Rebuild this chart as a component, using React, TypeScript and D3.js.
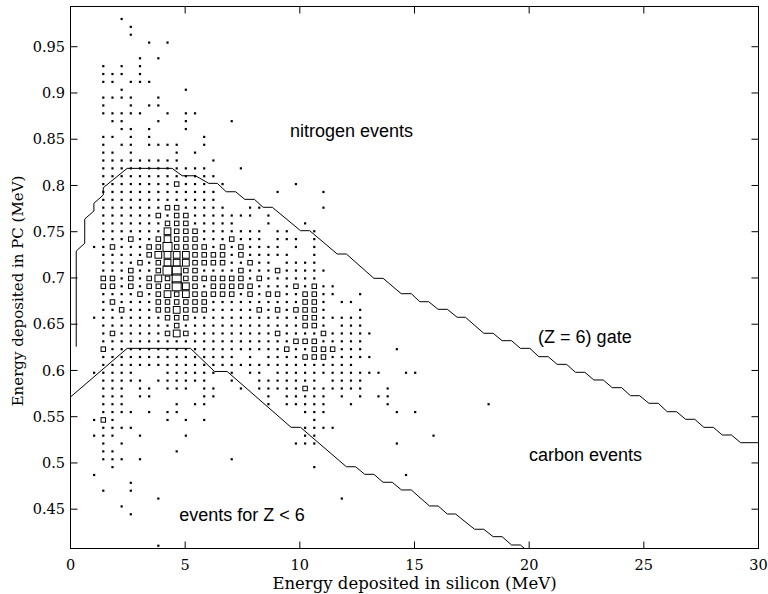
import React from "react";
import * as d3 from "d3";

// ---- data ----
const xTicks = [0, 5, 10, 15, 20, 25, 30];
const yTicks = [0.45, 0.5, 0.55, 0.6, 0.65, 0.7, 0.75, 0.8, 0.85, 0.9, 0.95];
const yTickLabels = ["0.45", "0.5", "0.55", "0.6", "0.65", "0.7", "0.75", "0.8", "0.85", "0.9", "0.95"];

// histogram bins: first bin centre and bin widths (MeV)
const binX0 = 1.03;
const binDX = 0.4;
const binY0 = 0.98;
const binDY = 0.0085;

// counts per bin (0 = empty, 1 = single event, 2..4 = larger counts); one string per row, top row first
const counts: string[] = [
  "0001",
  "00001",
  "00001",
  "0000001010",
  "",
  "0000010100",
  "0101010000",
  "0111010000",
  "0110111000",
  "00010000001",
  "0111100100",
  "0100101100",
  "011111001011",
  "0011000100100001",
  "00011010001",
  "0110101000001",
  "0101101111001",
  "011010000101",
  "01111111110001",
  "01111111111110001",
  "01111111111111",
  "01111111121110100000001",
  "01111111111111000000100001",
  "01111111111111",
  "01111111221111100110000001",
  "01111112122111111101",
  "011111112221111100010001",
  "0111111132221111111011001",
  "0111211232221112111011101",
  "1121112242222121211110101",
  "0111112333322221211111001",
  "0111121233322221121101111",
  "01112112442211112111211111",
  "0221212324222222212111111",
  "022121222432122222111121211",
  "011112123232222212122112211001",
  "012111122222211111111112210110",
  "011211122322211111212122210001",
  "111111112221111111111112211111",
  "011111111211111111111112210111",
  "0121111123211111111121111211111",
  "011111111111111111111122211111",
  "021111111111111111111211222111000100",
  "0111111111111111010111122211111",
  "01111111111111111111111111111",
  "111110001111110101101111111111110011",
  "0111110111111001001111111011110",
  "0111011011101100101111121111110010",
  "011101100000110000010111110101011",
  "01110000010110000001011111001000100000000001",
  "0111101011000000000000011100000001010",
  "1210000010101000000000001",
  "01111000000000000000000111100",
  "11100100001000000000000110000000000001",
  "010100000000000000000011100000000100",
  "0110000001",
  "0111010000000001",
  "00100000000000000000000010",
  "10000000000000000000000000000000001",
  "00001",
  "01001",
  "0000000100000000000000000001",
  "0001",
  "00001",
  "",
  "",
  "",
  "00000001",
];

// (Z = 6) gate, upper boundary
const upperGateX = [0.25, 0.25, 0.62, 0.62, 1.02, 1.02, 1.43, 1.43, 2.47, 4.43, 4.87, 5.45, 6.03, 6.4, 6.79, 7.2, 7.6, 8.02, 8.4, 8.8, 10.03, 10.43, 11.63, 12.03, 13.23, 13.63, 14.42, 14.86, 15.23, 15.62, 16.03, 16.43, 16.86, 17.22, 18.02, 18.43, 18.82, 19.23, 19.62, 20.03, 20.42, 20.83, 21.22, 21.63, 22.02, 22.43, 22.82, 23.23, 23.62, 24.03, 24.42, 24.82, 25.22, 25.63, 26.02, 26.43, 26.82, 27.22, 27.62, 28.03, 28.42, 28.82, 29.22, 30];
const upperGateY = [0.6257, 0.7291, 0.7375, 0.7637, 0.7724, 0.7807, 0.7897, 0.7976, 0.8185, 0.8185, 0.8105, 0.8105, 0.8023, 0.8023, 0.7932, 0.7932, 0.785, 0.785, 0.7764, 0.7764, 0.7511, 0.7511, 0.7259, 0.7259, 0.6996, 0.6996, 0.683, 0.683, 0.6743, 0.6743, 0.6661, 0.6661, 0.6575, 0.6575, 0.6402, 0.6402, 0.6322, 0.6322, 0.6239, 0.6239, 0.6149, 0.6149, 0.6066, 0.6066, 0.598, 0.598, 0.5897, 0.5897, 0.5814, 0.5814, 0.5727, 0.5727, 0.5645, 0.5645, 0.5554, 0.5554, 0.5472, 0.5472, 0.5385, 0.5385, 0.5302, 0.5302, 0.5219, 0.5219];

// (Z = 6) gate, lower boundary
const lowerGateX = [0, 2.47, 5.23, 6.28, 6.83, 9.62, 10.03, 12.03, 12.43, 12.83, 13.23, 13.63, 14.03, 14.43, 14.86, 15.65, 16.03, 16.43, 16.79, 17.62, 18.02, 18.43, 18.82, 19.23, 19.62, 20.03];
const lowerGateY = [0.5713, 0.6239, 0.6239, 0.5989, 0.5989, 0.5385, 0.5385, 0.4959, 0.4959, 0.4877, 0.4877, 0.4791, 0.4791, 0.4708, 0.4708, 0.4535, 0.4535, 0.4448, 0.4448, 0.4283, 0.4283, 0.4203, 0.4203, 0.4113, 0.4113, 0.4026];

const annotationText = ["nitrogen events", "(Z = 6) gate", "carbon events", "events for Z < 6"];
const annotationX = [9.57, 20.39, 19.99, 4.74];
const annotationY = [0.8524, 0.6297, 0.5016, 0.4372];

const xLabel = "Energy deposited in silicon (MeV)";
const yLabel = "Energy deposited in PC (MeV)";

export default function App() {
  const W = 768;
  const H = 594;
  const left = 70.5, right = 758.5, top = 6.5, bottom = 548.5;
  const x = d3.scaleLinear().domain([0, 30]).range([left, right]);
  const y = d3.scaleLinear().domain([0.4075, 0.9935]).range([bottom, top]);
  const side = d3.scaleLinear().domain([2, 4]).range([4.5, 9]);

  const cells: { cx: number; cy: number; v: number }[] = [];
  counts.forEach((row, r) => {
    row.padEnd(44, "0").split("").forEach((ch, c) => {
      const v = +ch;
      if (v > 0) cells.push({ cx: binX0 + c * binDX, cy: binY0 - r * binDY, v });
    });
  });

  const gateLine = (xs: number[], ys: number[]) =>
    d3.line<number>().x((_, i) => x(xs[i])).y((_, i) => y(ys[i]))(xs) || "";

  const serif = "'DejaVu Serif', 'Liberation Serif', serif";
  const sans = "'Liberation Sans', Arial, sans-serif";
  const tickLen = 7;

  return (
    <svg width={W} height={H} style={{ position: "absolute", left: 0, top: 0, background: "#fff" }}>
      <defs>
        <clipPath id="plotClip">
          <rect x={left} y={top} width={right - left} height={bottom - top} />
        </clipPath>
      </defs>
      <rect x={0} y={0} width={W} height={H} fill="#fff" />
      <g clipPath="url(#plotClip)">
        {cells.map((d, i) =>
          d.v === 1 ? (
            <rect key={i} x={x(d.cx) - 1.1} y={y(d.cy) - 1.1} width={2.2} height={2.2} fill="#000" />
          ) : (
            <rect
              key={i}
              x={x(d.cx) - side(d.v) / 2}
              y={y(d.cy) - side(d.v) / 2}
              width={side(d.v)}
              height={side(d.v)}
              fill="none"
              stroke="#000"
              strokeWidth={1}
            />
          )
        )}
        <path d={gateLine(upperGateX, upperGateY)} fill="none" stroke="#000" strokeWidth={1} />
        <path d={gateLine(lowerGateX, lowerGateY)} fill="none" stroke="#000" strokeWidth={1} />
      </g>
      {/* frame */}
      <rect x={left} y={top} width={right - left} height={bottom - top} fill="none" stroke="#000" strokeWidth={1} />
      {/* ticks */}
      {xTicks.map((t) => (
        <g key={"xt" + t}>
          <line x1={x(t)} x2={x(t)} y1={bottom} y2={bottom - tickLen} stroke="#000" />
          <line x1={x(t)} x2={x(t)} y1={top} y2={top + tickLen} stroke="#000" />
          <text x={x(t)} y={570} textAnchor="middle" fontFamily={serif} fontSize={14.5} fill="#000">
            {t}
          </text>
        </g>
      ))}
      {yTicks.map((t, i) => (
        <g key={"yt" + t}>
          <line x1={left} x2={left + tickLen} y1={y(t)} y2={y(t)} stroke="#000" />
          <line x1={right} x2={right - tickLen} y1={y(t)} y2={y(t)} stroke="#000" />
          <text x={65} y={y(t)} dy="0.36em" textAnchor="end" fontFamily={serif} fontSize={14.5} fill="#000">
            {yTickLabels[i]}
          </text>
        </g>
      ))}
      {annotationText.map((s, i) => (
        <text key={s} x={x(annotationX[i])} y={y(annotationY[i])} fontFamily={sans} fontSize={18} fill="#000">
          {s}
        </text>
      ))}
      <text x={(left + right) / 2} y={589} textAnchor="middle" fontFamily={serif} fontSize={16.5} fill="#000">
        {xLabel}
      </text>
      <text
        transform={`translate(23, 291) rotate(-90)`}
        textAnchor="middle"
        fontFamily={serif}
        fontSize={15}
        fill="#000"
      >
        {yLabel}
      </text>
    </svg>
  );
}
